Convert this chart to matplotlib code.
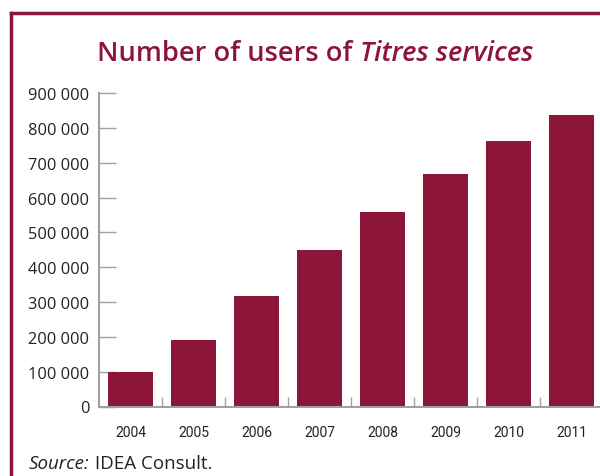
import matplotlib
matplotlib.use('Agg')
import matplotlib.pyplot as plt
from matplotlib.lines import Line2D
from matplotlib.ticker import FuncFormatter

MAROON = '#8c1538'
GREY = '#a0a0a0'

years = ['2004', '2005', '2006', '2007', '2008', '2009', '2010', '2011']
users = [98000, 190000, 316000, 449000, 558000, 667000, 762000, 836000]

fig = plt.figure(figsize=(6.0, 4.77), dpi=100)
ax = fig.add_axes([99/600, 69.5/477, 504/600, 313.5/477])

x = list(range(len(years)))
ax.bar(x, users, width=0.73, color=MAROON, zorder=2)

ax.set_xlim(-0.5, len(years) - 0.5)
ax.set_ylim(0, 900000)
ax.set_yticks(range(0, 900001, 100000))
ax.yaxis.set_major_formatter(FuncFormatter(lambda v, p: '{:,.0f}'.format(v).replace(',', ' ')))

# year labels centred, ticks between categories
ax.set_xticks(x)
ax.set_xticklabels(years, family=['Roboto', 'DejaVu Sans'], fontsize=10, color='#222222')
ax.tick_params(axis='x', which='major', length=0, pad=13)
ax.set_xticks([i + 0.5 for i in x[:-1]], minor=True)
ax.tick_params(axis='x', which='minor', direction='in', length=7, color=GREY, width=1)
ax.tick_params(axis='y', direction='in', length=12, color=GREY, width=1, pad=7,
               labelsize=11.8)
for lab in ax.get_yticklabels():
    lab.set_family(['Open Sans', 'DejaVu Sans'])
    lab.set_color('#222222')

for s in ['top', 'right']:
    ax.spines[s].set_visible(False)
for s in ['left', 'bottom']:
    ax.spines[s].set_color(GREY)
    ax.spines[s].set_linewidth(1.5)

# frame lines
fig.add_artist(Line2D([11/600, 11/600], [0, 1 - 14/477], color=MAROON, lw=2.5))
fig.add_artist(Line2D([11/600, 1], [1 - 14/477, 1 - 14/477], color=MAROON, lw=2.5))

# title with italic part
t1 = fig.text(97/600, 1 - 61/477, 'Number of users of ', fontsize=19.6, weight='semibold',
              color=MAROON, family=['Open Sans', 'DejaVu Sans'], va='baseline')
ax.annotate('Titres services', xy=(1, 0), xycoords=t1, fontsize=19.6, weight='semibold',
            style='italic', color=MAROON, family=['Open Sans', 'DejaVu Sans'], va='bottom')

# source line
s1 = fig.text(29/600, 1 - 469/477, 'Source:', fontsize=13.5, style='italic', color='#222222',
              family=['Open Sans', 'DejaVu Sans'], va='baseline')
ax.annotate(' IDEA Consult.', xy=(1, 0), xycoords=s1, fontsize=13.5, color='#222222',
            family=['Open Sans', 'DejaVu Sans'], va='bottom')

fig.savefig('out.png', dpi=100)
